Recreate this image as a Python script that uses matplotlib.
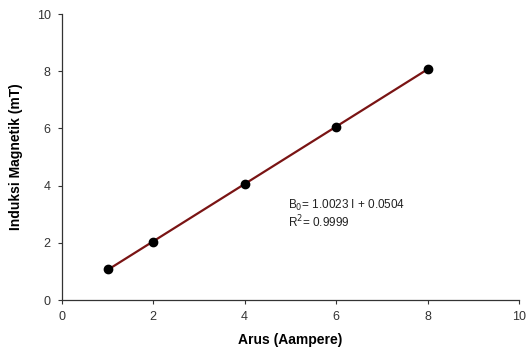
import numpy as np
import matplotlib.pyplot as plt

plt.rcParams['font.family'] = ['Liberation Sans', 'DejaVu Sans']

# data pengukuran
arus = [1, 2, 4, 6, 8]
induksi = [1.07, 2.03, 4.07, 6.05, 8.07]

# hasil regresi linier
slope = 1.0023
intercept = 0.0504
r2 = 0.9999

fig = plt.figure(figsize=(5.28, 3.51), dpi=100)
ax = fig.add_axes([0.117, 0.145, 0.866, 0.815])

x_fit = np.array([arus[0], arus[-1]])
ax.plot(x_fit, slope * x_fit + intercept, color='#7a1414', lw=1.6, zorder=2)
ax.plot(arus, induksi, 'o', color='black', ms=6, zorder=3)

ax.text(4.95, 3.18, r'B$_0$= %.4f I + %.4f' % (slope, intercept), fontsize=8.5, color='#222222')
ax.text(4.95, 2.55, r'R$^2$= %.4f' % r2, fontsize=8.5, color='#222222')

ax.set_xlim(0, 10)
ax.set_ylim(0, 10)
ax.set_xticks([0, 2, 4, 6, 8, 10])
ax.set_yticks([0, 2, 4, 6, 8, 10])
ax.spines['top'].set_visible(False)
ax.spines['right'].set_visible(False)
for s in ['left', 'bottom']:
    ax.spines[s].set_color('#333333')
    ax.spines[s].set_linewidth(0.9)
ax.tick_params(direction='out', length=3, labelsize=9, colors='#333333', pad=5)

ax.set_xlabel('Arus (Aampere)', fontsize=10, fontweight='bold', labelpad=7)
ax.set_ylabel('Induksi Magnetik (mT)', fontsize=10, fontweight='bold', labelpad=10)

fig.savefig('out.png', dpi=100)
